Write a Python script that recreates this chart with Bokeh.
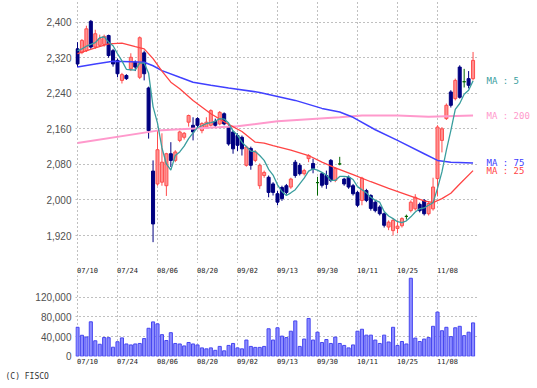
from bokeh.plotting import figure
from bokeh.layouts import column, row
from bokeh.models import (ColumnDataSource, FixedTicker, NumeralTickFormatter, Range1d,
                          Title, LinearAxis)
from bokeh.core.properties import value
from bokeh.embed import file_html
from bokeh.resources import INLINE

# ---------------- data ----------------
tick_index = [0, 9, 18, 27, 36, 45, 54, 63, 72, 81]
tick_labels = ["07/10", "07/24", "08/06", "08/20", "09/02", "09/13", "09/30", "10/11", "10/25", "11/08"]
price_ticks = [1920, 2000, 2080, 2160, 2240, 2320, 2400]
volume_ticks = [0, 40000, 80000, 120000]

open_ = [2340, 2332, 2336, 2402, 2344, 2348, 2350, 2370, 2336, 2314, 2269, 2280, 2295, 2310, 2276, 2331,
         2252, 2065, 2036, 2040, 2032, 2104, 2089, 2134, 2141, 2175, 2168, 2183, 2156, 2164, 2168, 2177,
         2171, 2194, 2164, 2153, 2145, 2141, 2078, 2116, 2089, 2032, 2055, 2051, 2036, 2014, 2028, 2032,
         2029, 2085, 2078, 2059, 2093, 2082, 2039, 2059, 2055, 2089, 2044, 2081, 2047, 2051, 2032, 2017,
         1999, 2021, 2010, 1995, 1984, 1969, 1939, 1931, 1936, 1942, 1963, 1976, 1980, 1990, 1999, 1969,
         1980, 2048, 2134, 2183, 2243, 2228, 2299, 2266, 2273, 2273]
high = [2355, 2362, 2392, 2405, 2383, 2372, 2372, 2372, 2340, 2318, 2286, 2283, 2330, 2314, 2368, 2336,
        2255, 2089, 2156, 2150, 2106, 2130, 2112, 2156, 2153, 2192, 2186, 2186, 2175, 2186, 2204, 2183,
        2200, 2197, 2168, 2156, 2150, 2145, 2122, 2120, 2112, 2082, 2066, 2055, 2040, 2020, 2032, 2036,
        2050, 2090, 2083, 2070, 2103, 2093, 2052, 2062, 2066, 2092, 2074, 2097, 2050, 2055, 2036, 2020,
        2052, 2025, 2013, 1999, 1988, 1972, 1954, 1958, 1954, 1961, 1967, 1999, 2013, 1994, 2002, 1995,
        2050, 2168, 2164, 2217, 2247, 2273, 2303, 2295, 2290, 2333]
low = [2299, 2328, 2333, 2340, 2340, 2345, 2345, 2320, 2300, 2276, 2262, 2270, 2290, 2290, 2272, 2269,
       2138, 1905, 2032, 2032, 2009, 2074, 2085, 2130, 2136, 2165, 2134, 2160, 2150, 2160, 2165, 2162,
       2168, 2168, 2122, 2104, 2110, 2100, 2075, 2068, 2085, 2025, 2050, 2006, 2010, 1988, 1998, 2012,
       2025, 2050, 2055, 2055, 2085, 2060, 2010, 2028, 2025, 2040, 2040, 2078, 2032, 2025, 2010, 1984,
       1988, 1995, 1976, 1972, 1965, 1938, 1932, 1920, 1925, 1938, 1956, 1972, 1976, 1972, 1965, 1965,
       1976, 2008, 2107, 2180, 2208, 2224, 2228, 2253, 2251, 2269]
close = [2306, 2359, 2385, 2344, 2374, 2363, 2368, 2325, 2306, 2284, 2282, 2273, 2321, 2299, 2365, 2284,
         2156, 1946, 2113, 2085, 2104, 2089, 2108, 2153, 2150, 2190, 2153, 2168, 2172, 2175, 2201, 2168,
         2197, 2171, 2126, 2115, 2123, 2115, 2119, 2078, 2108, 2078, 2062, 2017, 2017, 1995, 2003, 2017,
         2047, 2055, 2059, 2066, 2100, 2071, 2039, 2033, 2035, 2044, 2071, 2081, 2036, 2029, 2014, 1988,
         2049, 1999, 1981, 1976, 1969, 1943, 1950, 1954, 1941, 1958, 1963, 1995, 2006, 1976, 1969, 1992,
         2029, 2164, 2160, 2213, 2213, 2269, 2231, 2266, 2258, 2314]
volume = [59000, 42700, 39300, 70200, 31500, 24400, 38100, 37800, 18400, 29500, 37400, 25000, 23000,
          25000, 26000, 36000, 57000, 70000, 66000, 44000, 32000, 48000, 26000, 25000, 21000, 28000,
          25000, 23000, 17000, 15000, 17000, 12000, 20000, 11000, 22000, 26000, 17000, 15000, 33000,
          20000, 18000, 18000, 20000, 56000, 33000, 58000, 41000, 38000, 51000, 72000, 20000, 35000,
          77000, 33000, 49000, 28000, 34000, 26000, 39000, 26000, 22000, 17000, 23000, 51000, 55000,
          43000, 43000, 33000, 26000, 43000, 29000, 59000, 22000, 30000, 25000, 159000, 37000, 30000,
          35000, 38000, 61000, 90000, 52000, 59000, 40000, 58000, 61000, 42000, 49000, 68000]

ma5 = [2336, 2340, 2346, 2350, 2354, 2365, 2367, 2355, 2347, 2329, 2313, 2294, 2293, 2292, 2308, 2308,
       2285, 2210, 2173, 2117, 2081, 2067, 2100, 2108, 2121, 2138, 2151, 2163, 2167, 2172, 2174, 2177,
       2183, 2182, 2173, 2155, 2146, 2130, 2120, 2110, 2109, 2100, 2089, 2069, 2056, 2034, 2019, 2010,
       2016, 2023, 2036, 2049, 2065, 2070, 2067, 2062, 2056, 2044, 2044, 2053, 2053, 2052, 2046, 2030,
       2023, 2016, 2006, 1999, 1995, 1974, 1964, 1958, 1951, 1949, 1953, 1962, 1973, 1980, 1982, 1988,
       1994, 2026, 2063, 2112, 2156, 2204, 2217, 2238, 2247, 2268]
ma25_idx = [0, 4, 7, 10, 13, 15, 17, 19, 21, 23, 26, 30, 34, 37, 40, 42, 44, 48, 52, 55, 58, 62, 66,
            70, 74, 78, 80, 82, 84, 86, 89]
ma25 = [2329, 2342, 2351, 2353, 2345, 2340, 2318, 2290, 2265, 2250, 2224, 2194, 2170, 2154, 2130, 2128,
        2122, 2112, 2100, 2085, 2072, 2057, 2041, 2026, 2012, 1998, 1994, 2003, 2015, 2036, 2066]
ma75_idx = [0, 4, 8, 12, 15, 17, 19, 23, 26, 30, 34, 41, 49, 55, 59, 62, 67, 72, 78, 81, 84, 89]
ma75 = [2299, 2306, 2312, 2311, 2310, 2302, 2291, 2276, 2265, 2258, 2252, 2242, 2224, 2206, 2198, 2186,
        2158, 2134, 2104, 2089, 2085, 2083]
ma200_idx = [0, 18, 21, 36, 45, 59, 64, 72, 79, 89]
ma200 = [2128, 2156, 2158, 2166, 2177, 2186, 2190, 2190, 2187, 2190]

ma_names = ["MA : 5", "MA : 200", "MA : 75", "MA : 25"]

# ---------------- styles ----------------
UP_FILL, UP_LINE = "#FF9090", "#FF4D4D"
DN_FILL, DN_LINE = "#000080", "#000080"
DJ_LINE = "#006600"
GRID = "#808080"
C_MA5, C_MA25, C_MA75, C_MA200 = "#3A9E9E", "#FF4444", "#4040FF", "#FF99CC"

n = len(close)
xs = list(range(n))
fills, lines, tops, bots = [], [], [], []
for o, c in zip(open_, close):
    if c > o:
        fills.append(UP_FILL); lines.append(UP_LINE)
    elif c < o:
        fills.append(DN_FILL); lines.append(DN_LINE)
    else:
        fills.append(DJ_LINE); lines.append(DJ_LINE)
    tops.append(max(o, c)); bots.append(min(o, c))

src = ColumnDataSource(dict(x=xs, high=high, low=low, top=tops, bottom=bots, fill=fills, line=lines,
                            vol=volume))

xr = Range1d(-0.45, 90.0)
yr_price = Range1d(1857, 2448.8)


def style_yaxis(fig):
    for ax in fig.yaxis:
        ax.axis_line_color = None
        ax.major_tick_line_color = None
        ax.minor_tick_line_color = None
        ax.major_tick_out = 0
        ax.major_label_standoff = 4
        ax.major_label_text_font = "Liberation Sans"
        ax.major_label_text_font_size = "10px"
        ax.major_label_text_color = "#505050"


def style_grid(fig):
    for g in (fig.xgrid, fig.ygrid):
        g.grid_line_color = GRID
        g.grid_line_dash = "1 3"
        g.grid_line_width = 1


# ---------------- price figure ----------------
p = figure(width=477, height=263, x_range=xr, y_range=yr_price,
           output_backend="svg", toolbar_location=None, x_axis_location=None,
           min_border_left=75, min_border_right=0, min_border_top=0, min_border_bottom=0,
           outline_line_color=None, background_fill_color="white", border_fill_color="white")

p.yaxis.ticker = FixedTicker(ticks=price_ticks)
p.yaxis.formatter = NumeralTickFormatter(format="0,0")
style_yaxis(p)
p.ygrid.ticker = FixedTicker(ticks=price_ticks)
p.xgrid.ticker = FixedTicker(ticks=tick_index)
style_grid(p)

p.segment(x0="x", y0="low", x1="x", y1="high", line_color="line", line_width=1, source=src)
p.vbar(x="x", width=0.68, top="top", bottom="bottom", fill_color="fill", line_color="line",
       line_width=1, source=src)

p.line(ma200_idx, ma200, line_color=C_MA200, line_width=2)
p.line(ma75_idx, ma75, line_color=C_MA75, line_width=1.5)
p.line(ma25_idx, ma25, line_color=C_MA25, line_width=1.3)
p.line(xs, ma5, line_color=C_MA5, line_width=1.3)

# ---------------- MA legend strip (right of price chart) ----------------
lg = figure(width=53, height=263, x_range=Range1d(0, 53), y_range=yr_price,
            output_backend="svg", toolbar_location=None, x_axis_location=None,
            y_axis_location=None, min_border_left=0, min_border_right=0, min_border_top=0,
            min_border_bottom=0, outline_line_color=None, background_fill_color="white",
            border_fill_color="white")
lg.xgrid.visible = False
lg.ygrid.visible = False
lg.text(x=[9, 9, 9, 9], y=[ma5[-1], ma200[-1], ma75[-1], ma25[-1]], text=ma_names,
        text_color=[C_MA5, C_MA200, C_MA75, C_MA25], text_font=value("DejaVu Sans Mono"),
        text_font_size="9px", text_baseline="middle", text_align="left")

# ---------------- volume figure ----------------
v = figure(width=530, height=119, x_range=xr, y_range=Range1d(-590, 164640),
           output_backend="svg", toolbar_location=None,
           min_border_left=75, min_border_right=53, min_border_top=10, min_border_bottom=25,
           outline_line_color=None, background_fill_color="white", border_fill_color="white")

label_ticks = [t + 2.25 for t in tick_index]
overrides = {lt: lab for lt, lab in zip(label_ticks, tick_labels)}

v.add_layout(LinearAxis(), "above")
for ax in v.xaxis:
    ax.ticker = FixedTicker(ticks=label_ticks)
    ax.major_label_overrides = overrides
    ax.axis_line_color = None
    ax.major_tick_line_color = None
    ax.minor_tick_line_color = None
    ax.major_tick_out = 0
    ax.major_tick_in = 0
    ax.major_label_standoff = 1
    ax.major_label_text_font = "DejaVu Sans Mono"
    ax.major_label_text_font_size = "7px"
    ax.major_label_text_color = "#222222"

v.yaxis.ticker = FixedTicker(ticks=volume_ticks)
v.yaxis.formatter = NumeralTickFormatter(format="0,0")
style_yaxis(v)
v.xgrid.ticker = FixedTicker(ticks=tick_index)
v.ygrid.ticker = FixedTicker(ticks=volume_ticks[1:])
style_grid(v)

v.vbar(x="x", width=0.7, top="vol", bottom=0, fill_color="#8C8CFF", line_color="#4646F0",
       line_width=1, source=src)

v.add_layout(Title(text="(C) FISCO", align="left", offset=-70, text_font="DejaVu Sans Mono",
                   text_font_size="8px", text_font_style="normal", text_color="#333333",
                   standoff=3), "below")

layout = column(row(p, lg, spacing=0), v, spacing=0)
open("out.html", "w").write(file_html(layout, INLINE))
